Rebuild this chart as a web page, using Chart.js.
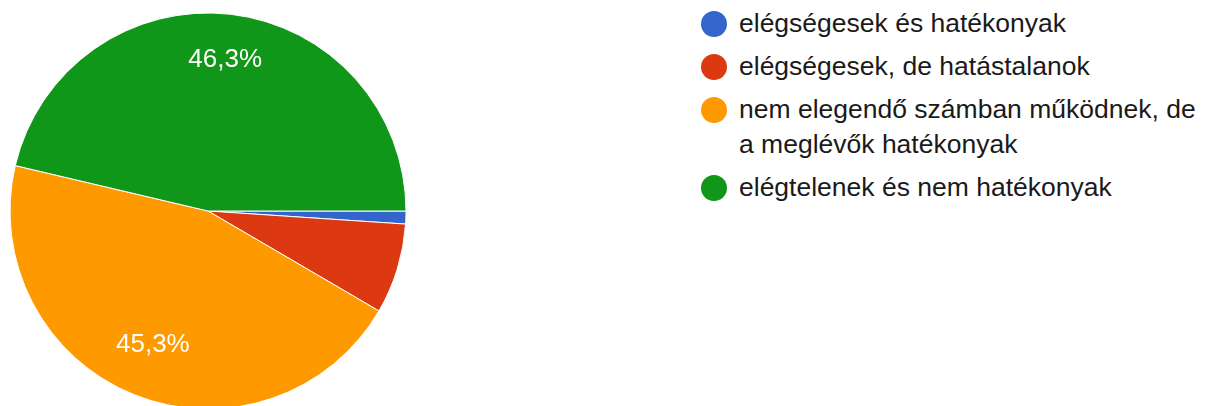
<!DOCTYPE html>
<html>
<head>
<meta charset="utf-8">
<script src="https://cdn.jsdelivr.net/npm/chart.js@4.4.1/dist/chart.umd.min.js"></script>
<style>
html,body{margin:0;padding:0;width:1206px;height:406px;overflow:hidden;background:#fff;font-family:"Liberation Sans",Arial,sans-serif;}
#pie{position:absolute;left:0;top:0;width:416px;height:422px;}
#legend{position:absolute;left:701px;top:6px;list-style:none;margin:0;padding:0;}
#legend li{display:flex;align-items:flex-start;margin:0 0 8px 0;}
#legend .dot{width:26px;height:26px;border-radius:50%;margin-top:4.5px;flex:none;}
#legend .txt{margin-left:12px;font-size:26.5px;line-height:35px;color:#1a1a1a;width:464px;}
</style>
</head>
<body>
<div id="pie"><canvas id="c"></canvas></div>
<ul id="legend"></ul>
<script>
const categories = [
  "elégségesek és hatékonyak",
  "elégségesek, de hatástalanok",
  "nem elegendő számban működnek, de a meglévők hatékonyak",
  "elégtelenek és nem hatékonyak"
];
const counts = [1, 7, 43, 44];
const colors = ["#3366cc", "#dc3912", "#ff9900", "#109618"];

// HTML legend
const ul = document.getElementById('legend');
categories.forEach((name, i) => {
  const li = document.createElement('li');
  const dot = document.createElement('span');
  dot.className = 'dot';
  dot.style.background = colors[i];
  const t = document.createElement('span');
  t.className = 'txt';
  t.textContent = name;
  li.appendChild(dot);
  li.appendChild(t);
  ul.appendChild(li);
});

const sliceLabels = {
  id: 'sliceLabels',
  afterDatasetsDraw(chart) {
    const ctx = chart.ctx;
    const meta = chart.getDatasetMeta(0);
    const data = chart.data.datasets[0].data;
    const total = data.reduce((a, b) => a + b, 0);
    ctx.save();
    ctx.fillStyle = '#ffffff';
    ctx.font = '26px "Liberation Sans", Arial, sans-serif';
    ctx.textAlign = 'center';
    ctx.textBaseline = 'middle';
    meta.data.forEach((arc, i) => {
      const frac = data[i] / total;
      if (frac < 0.1) return;
      const p = arc.getProps(['x', 'y', 'startAngle', 'endAngle', 'outerRadius'], true);
      const mid = (p.startAngle + p.endAngle) / 2;
      const r = p.outerRadius * 0.75;
      const x = p.x + Math.cos(mid) * r;
      const y = p.y + Math.sin(mid) * r - 4;
      const txt = (frac * 100).toFixed(1).replace('.', ',') + '%';
      ctx.fillText(txt, x, y);
    });
    ctx.restore();
  }
};

new Chart(document.getElementById('c'), {
  type: 'pie',
  data: {
    labels: categories,
    datasets: [{
      data: counts,
      backgroundColor: colors,
      borderColor: '#ffffff',
      borderWidth: 1,
      radius: 198,
      hoverOffset: 0
    }]
  },
  options: {
    responsive: true,
    maintainAspectRatio: false,
    animation: false,
    rotation: 90,
    layout: { padding: 0 },
    plugins: {
      legend: { display: false },
      tooltip: { enabled: true }
    }
  },
  plugins: [sliceLabels]
});
</script>
</body>
</html>
